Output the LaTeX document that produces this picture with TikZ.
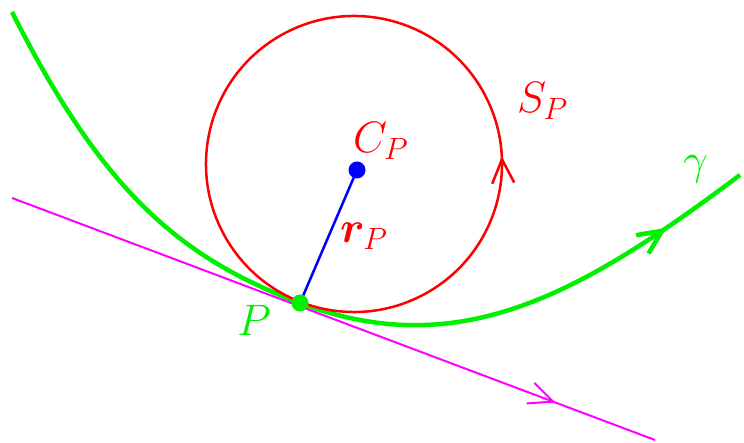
\documentclass[tikz,border=0pt]{standalone}
\usepackage{fix-cm}
\usepackage{amsmath,bm}
\usepackage{xcolor}
\usetikzlibrary{arrows.meta,decorations.markings}
\definecolor{curvegreen}{RGB}{0,240,0}
\definecolor{circlered}{RGB}{255,0,0}
\definecolor{radiusblue}{RGB}{0,0,255}
\definecolor{tangentmag}{RGB}{255,0,255}

\begin{document}
\begin{tikzpicture}[
    x=1pt, y=1pt,
    lbl/.style={inner sep=0pt, anchor=base west, font=\fontsize{44}{44}\selectfont},
    dot/.style={circle, minimum size=17pt, inner sep=0pt},
    midarrow/.style={postaction={decorate}, decoration={markings,
        mark=at position #1 with {\arrow{Straight Barb[length=24pt,width=22pt]}}}},
]
    \useasboundingbox (0,0) rectangle (744,443);

    % Centre of the osculating circle and end points of the tangent
    \coordinate (ctr) at (354,279);
    \coordinate (tanA) at (12,245);
    \coordinate (tanB) at (655,3);
    \coordinate (gA) at (12,431);
    \coordinate (gB) at (740,268);

    % Points P and C_P
    \node[dot] (P) at (300,140) {};
    \node[dot] (C) at (357,273) {};

    % The curve gamma
    \draw[curvegreen, line width=4.5pt, midarrow=0.9]
        (gA) .. controls (102,253) and (178,186) .. (P.center)
             .. controls (459,80) and (580,148) .. (gB);

    % Tangent line at P
    \draw[tangentmag, line width=2pt, midarrow=0.845] (tanA) -- (tanB);

    % Osculating circle S_P
    \draw[circlered, line width=2.5pt, midarrow=0.175]
        ([shift={(-60:148)}]ctr) arc[start angle=-60, delta angle=360, radius=148];

    % Radius r_P and the two dots
    \draw[radiusblue, line width=2.5pt] (P.center) -- (C.center);
    \fill[radiusblue] (C) circle[radius=8.5];
    \fill[curvegreen] (P) circle[radius=8.5];

    % Labels
    \node[lbl, circlered] (labC) at (353,290) {$C_P$};
    \node[lbl, circlered] (labS) at (517,330) {$S_P$};
    \node[lbl, circlered] (labr) at (340,200) {$\bm{r}_P$};
    \node[lbl, curvegreen] (labg) at (683,268) {$\gamma$};
    \node[lbl, curvegreen] (labP) at (237,107) {$P$};
\end{tikzpicture}
\end{document}
